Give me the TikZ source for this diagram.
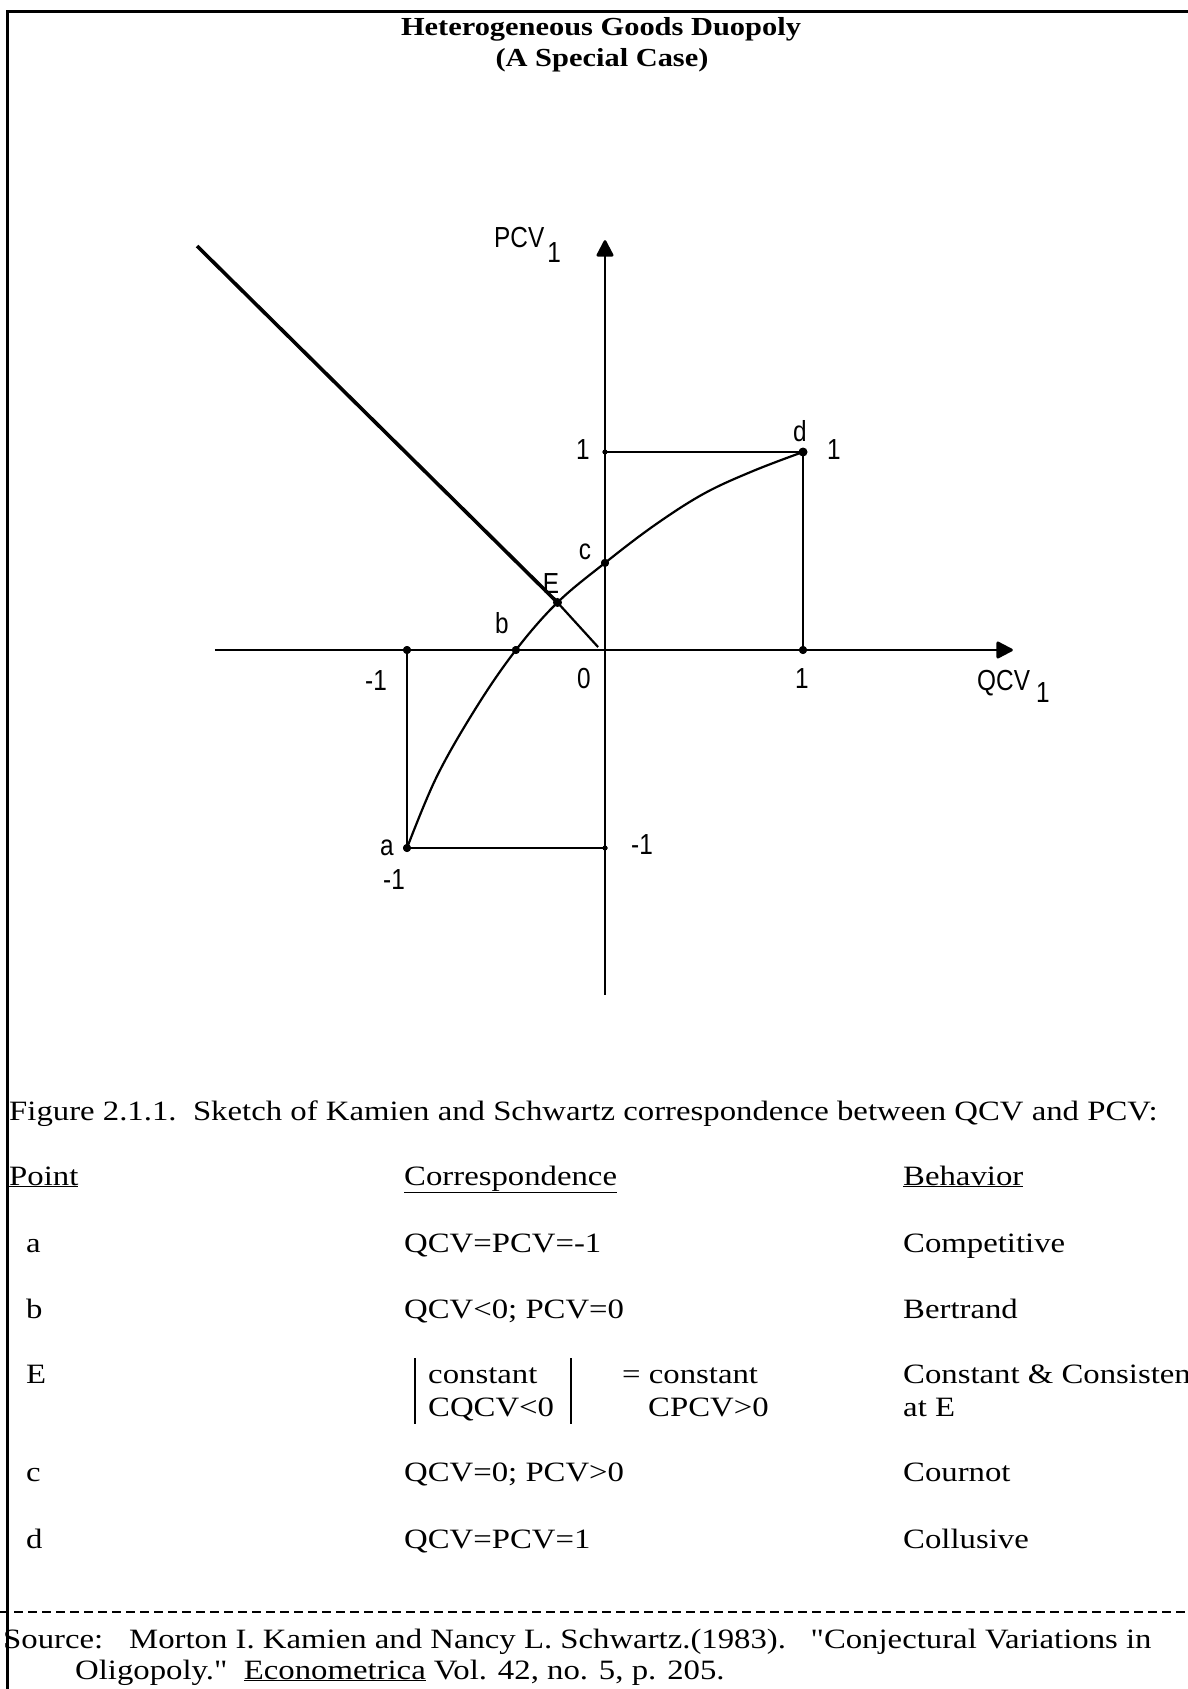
\documentclass[tikz,border=0pt]{standalone}
\usepackage{fontspec}
\setmainfont[FakeStretch=1.17]{Liberation Serif}
\newfontfamily\qfont[FakeStretch=1.17,Ligatures=TeXOff]{Liberation Serif}
\newfontfamily\gfont[FakeStretch=0.84]{Liberation Sans}
\usetikzlibrary{arrows.meta}
\begin{document}
\begin{tikzpicture}[x=1pt,y=-1pt,
  txt/.style={anchor=base west, inner sep=0pt, font=\fontsize{28}{34}\selectfont},
  ttl/.style={anchor=base, inner sep=0pt, font=\bfseries\fontsize{26}{30}\selectfont},
  glab/.style={inner sep=0pt, font=\gfont\fontsize{29}{32}\selectfont},
  ax/.style={line width=2.6pt},
  curve/.style={line width=2.2pt},
  dot/.style={circle, fill=black, inner sep=0pt, minimum size=8pt},
  sdot/.style={circle, fill=black, inner sep=0pt, minimum size=5pt},
  tip/.style={-{Triangle[width=18pt,length=18pt,round]}},
]
\useasboundingbox (0,0) rectangle (1188,1689);
\fill[white] (0,0) rectangle (1188,1689);
% frame
\draw[line width=3pt] (1188,11) -- (7,11) -- (7,1689);
% title
\node[ttl] (t1) at (601,35) {Heterogeneous Goods Duopoly};
\node[ttl] (t2) at (602,66) {(A Special Case)};

% graph
\begin{scope}[shift={(605,650)}, x=198pt, y=198pt]
  \coordinate (xl) at (-1.97,0);
  \coordinate (xr) at (2.06,0);
  \coordinate (yb) at (0,-1.74);
  \coordinate (yt) at (0,2.07);
  \coordinate (nl) at (-2.06,2.04);
  \coordinate (ne) at (-0.035,0.015);
  \node[dot] (pa) at (-1,-1) {};
  \node[dot] (pm1x) at (-1,0) {};
  \node[dot] (pb) at (-0.45,0) {};
  \node[dot] (pE) at (-0.24,0.24) {};
  \node[dot] (pc) at (0,0.44) {};
  \node[sdot] (p1y) at (0,1) {};
  \node[dot] (pd) at (1,1) {};
  \node[dot] (p1x) at (1,0) {};
  \node[sdot] (pm1y) at (0,-1) {};
  % axes
  \draw[ax, tip] (xl) -- (xr);
  \draw[ax, tip] (yb) -- (yt);
  % squares
  \draw[ax] (p1y.center) -- (pd.center) -- (p1x.center);
  \draw[ax] (pm1x.center) -- (pa.center) -- (pm1y.center);
  % negative line
  \draw[line width=3.6pt] (nl) -- (pE.center);
  \draw[curve] (pE.center) -- (ne);
  % correspondence curve
  \draw[curve] plot[smooth, tension=0.6] coordinates {(-1,-1) (-0.85,-0.64) (-0.65,-0.29) (-0.45,0) (-0.24,0.24) (0,0.44) (0.25,0.63) (0.5,0.79) (0.75,0.905) (1,1)};
  % redraw dots on top
  \foreach \p/\s in {pa/8,pm1x/8,pb/8,pE/9,pc/8,pd/9,p1x/8,p1y/5,pm1y/5}
    \fill (\p) circle[radius=\s/2*1pt];
\end{scope}

% graph labels (pixel coordinates)
\node[glab, anchor=base west] (lpcv) at (494,247) {PCV\kern3pt\raisebox{-15pt}{1}};
\node[glab, anchor=base west] (lqcv) at (977,690) {QCV\kern6pt\raisebox{-12pt}{1}};
\node[glab] (l1y) at (583,450) {1};
\node[glab] (lc) at (585,552) {c};
\node[glab] (lE) at (551,584) {E};
\node[glab] (lb) at (502,623) {b};
\node[glab] (ld) at (800,431) {d};
\node[glab] (l1d) at (834,450) {1};
\node[glab] (l0) at (584,679) {0};
\node[glab] (l1x) at (802,679) {1};
\node[glab] (lm1x) at (376,681) {-1};
\node[glab] (la) at (387,848) {a};
\node[glab] (lm1a) at (394,880) {-1};
\node[glab] (lm1y) at (642,845) {-1};

% caption and table
\node[txt] (cap) at (9,1120) {Figure 2.1.1.\ \ Sketch of Kamien and Schwartz correspondence between QCV and PCV:};
\node[txt] (hp) at (9,1185) {\underline{Point}};
\node[txt] (hc) at (404,1185) {\underline{Correspondence}};
\node[txt] (hb) at (903,1185) {\underline{Behavior}};

\node[txt] (ra1) at (26,1252) {a};
\node[txt] (ra2) at (404,1252) {QCV=PCV=-1};
\node[txt] (ra3) at (903,1252) {Competitive};

\node[txt] (rb1) at (26,1318) {b};
\node[txt] (rb2) at (404,1318) {QCV<0; PCV=0};
\node[txt] (rb3) at (903,1318) {Bertrand};

\node[txt] (rE1) at (26,1383) {E};
\node[txt] (rE2) at (428,1383) {constant};
\node[txt] (rE3) at (622,1383) {= constant};
\node[txt] (rE4) at (428,1416) {CQCV<0};
\node[txt] (rE5) at (648,1416) {CPCV>0};
\node[txt] (rE6) at (903,1383) {Constant \& Consistent};
\node[txt] (rE7) at (903,1416) {at E};
\draw[line width=1.8pt] (415,1358) -- (415,1424);
\draw[line width=1.8pt] (571,1358) -- (571,1424);

\node[txt] (rc1) at (26,1481) {c};
\node[txt] (rc2) at (404,1481) {QCV=0; PCV>0};
\node[txt] (rc3) at (903,1481) {Cournot};

\node[txt] (rd1) at (26,1548) {d};
\node[txt] (rd2) at (404,1548) {QCV=PCV=1};
\node[txt] (rd3) at (903,1548) {Collusive};

\draw[line width=2pt, dash pattern=on 9pt off 5pt] (0,1612) -- (1188,1612);

\node[txt] (src1) at (3,1648) {Source:};
\node[txt] (src2) at (129,1648) {Morton I. Kamien and Nancy L. Schwartz.(1983).\ \ \ {\qfont "}Conjectural Variations in};
\node[txt] (src3) at (75,1679) {Oligopoly.{\qfont "}\ \ \underline{Econometrica} Vol. 42, no. 5, p. 205.};
\end{tikzpicture}
\end{document}
